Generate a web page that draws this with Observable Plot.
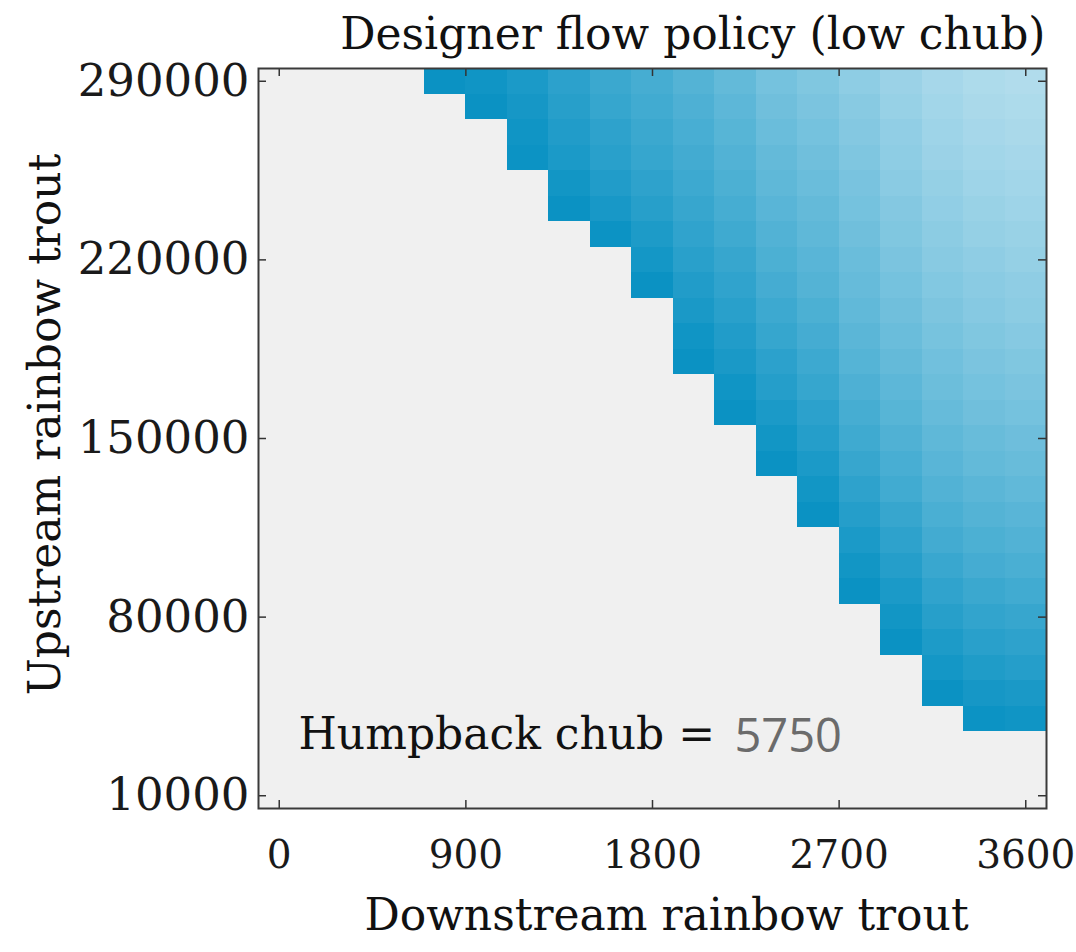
<!DOCTYPE html>
<html><head><meta charset="utf-8">
<script src="https://cdn.jsdelivr.net/npm/d3@7"></script>
<script src="https://cdn.jsdelivr.net/npm/@observablehq/plot@0.6"></script>
<style>body{margin:0;background:#fff} #chart svg{display:block}</style>
</head><body><div id="chart"></div>
<script>
// Grid of the policy map
const downstreamTrout = [800, 1000, 1200, 1400, 1600, 1800, 2000, 2200, 2400, 2600, 2800, 3000, 3200, 3400, 3600];
const upstreamTrout = [290000, 280000, 270000, 260000, 250000, 240000, 230000, 220000, 210000, 200000, 190000, 180000, 170000,
  160000, 150000, 140000, 130000, 120000, 110000, 100000, 90000, 80000, 70000, 60000, 50000, 40000];
// Relative shade of each filled cell (0 = darkest blue, 1 = lightest), top to bottom per column
const shade = [
  [0.03],
  [0.06, 0.03],
  [0.12, 0.09, 0.06, 0.04],
  [0.21, 0.18, 0.15, 0.12, 0.07, 0.03],
  [0.29, 0.26, 0.22, 0.19, 0.15, 0.10, 0.04],
  [0.35, 0.32, 0.29, 0.26, 0.22, 0.18, 0.13, 0.08, 0.03],
  [0.42, 0.39, 0.36, 0.33, 0.30, 0.27, 0.23, 0.19, 0.15, 0.11, 0.06, 0.03],
  [0.50, 0.47, 0.44, 0.41, 0.38, 0.35, 0.31, 0.27, 0.23, 0.19, 0.15, 0.11, 0.06, 0.03],
  [0.60, 0.57, 0.54, 0.51, 0.48, 0.45, 0.41, 0.38, 0.34, 0.30, 0.26, 0.21, 0.17, 0.12, 0.07, 0.03],
  [0.66, 0.63, 0.60, 0.57, 0.54, 0.51, 0.48, 0.45, 0.42, 0.38, 0.34, 0.30, 0.26, 0.21, 0.17, 0.12, 0.07, 0.03],
  [0.73, 0.70, 0.68, 0.65, 0.62, 0.60, 0.57, 0.54, 0.52, 0.49, 0.46, 0.43, 0.39, 0.35, 0.31, 0.27, 0.22, 0.17, 0.12, 0.07, 0.03],
  [0.80, 0.78, 0.75, 0.73, 0.71, 0.68, 0.66, 0.63, 0.60, 0.57, 0.54, 0.51, 0.47, 0.44, 0.40, 0.36, 0.32, 0.27, 0.22, 0.17, 0.12, 0.07, 0.03],
  [0.86, 0.84, 0.82, 0.80, 0.77, 0.75, 0.72, 0.70, 0.67, 0.64, 0.61, 0.58, 0.55, 0.52, 0.48, 0.45, 0.41, 0.37, 0.33, 0.28, 0.23, 0.18, 0.13, 0.08, 0.03],
  [0.90, 0.88, 0.86, 0.84, 0.82, 0.79, 0.77, 0.74, 0.71, 0.69, 0.66, 0.63, 0.60, 0.57, 0.53, 0.50, 0.46, 0.42, 0.38, 0.34, 0.29, 0.24, 0.19, 0.14, 0.09, 0.04],
  [0.92, 0.90, 0.88, 0.86, 0.84, 0.82, 0.79, 0.77, 0.74, 0.72, 0.69, 0.66, 0.63, 0.60, 0.56, 0.53, 0.49, 0.45, 0.41, 0.37, 0.32, 0.27, 0.22, 0.17, 0.11, 0.06]
];
const xTicks = [0, 900, 1800, 2700, 3600];
const yTicks = [10000, 80000, 150000, 220000, 290000];
const xStep = 200, yStep = 10000;
const xGrid = [0, 3600], yGrid = [10000, 290000];
const chubValue = 5750;
const titleText = "Designer flow policy (low chub)";
const xLabel = "Downstream rainbow trout";
const yLabel = "Upstream rainbow trout";
const chubLabel = "Humpback chub =";

const cells = shade.flatMap((col, i) => col.map((v, j) => ({x: downstreamTrout[i], y: upstreamTrout[j], v})));

const W = 1076, H = 952;
const mL = 258, mR = 30, mT = 68, mB = 144;
const pw = W - mL - mR, ph = H - mT - mB;
const serif = "'DejaVu Serif', serif";
const tickLen = 8;

const chart = Plot.plot({
  width: W, height: H,
  marginLeft: mL, marginRight: mR, marginTop: mT, marginBottom: mB,
  style: {fontFamily: serif, fontSize: "44px", color: "#1a1a1a", background: "#fff"},
  x: {domain: [xGrid[0] - xStep / 2, xGrid[1] + xStep / 2]},
  y: {domain: [yGrid[0] - yStep / 2, yGrid[1] + yStep / 2]},
  color: {type: "linear", domain: [0, 1], range: ["#0590c2", "#c0e3f0"], interpolate: "rgb"},
  marks: [
    Plot.frame({fill: "#f0f0f0"}),
    Plot.rect(cells, {
      x1: d => d.x - xStep / 2, x2: d => d.x + xStep / 2,
      y1: d => d.y - yStep / 2, y2: d => d.y + yStep / 2,
      fill: "v", shapeRendering: "crispEdges"
    }),
    Plot.ruleX(xTicks, {x: d => d, insetTop: ph - tickLen, stroke: "#333", strokeWidth: 1.5}),
    Plot.ruleX(xTicks, {x: d => d, insetBottom: ph - tickLen, stroke: "#333", strokeWidth: 1.5}),
    Plot.ruleY(yTicks, {y: d => d, insetRight: pw - tickLen, stroke: "#333", strokeWidth: 1.5}),
    Plot.ruleY(yTicks, {y: d => d, insetLeft: pw - tickLen, stroke: "#333", strokeWidth: 1.5}),
    Plot.axisX(xTicks, {tickSize: 0, tickPadding: 32, tickFormat: d => String(d), label: null, fontSize: 39}),
    Plot.axisY(yTicks, {tickSize: 0, tickPadding: 9, tickFormat: d => String(d), label: null, fontSize: 45}),
    Plot.frame({stroke: "#3a3a3a", strokeWidth: 2}),
    Plot.text([titleText], {frameAnchor: "top-right", textAnchor: "end", lineAnchor: "middle", dy: -34, dx: -1, fontSize: 44, fill: "#111"}),
    Plot.text([xLabel], {frameAnchor: "bottom", lineAnchor: "middle", dy: 107, dx: 14, fontSize: 44, fill: "#111"}),
    Plot.text([yLabel], {frameAnchor: "left", textAnchor: "middle", rotate: -90, lineAnchor: "middle", dx: -213, dy: -14, fontSize: 44, fill: "#111"}),
    Plot.text([chubLabel], {frameAnchor: "bottom-left", textAnchor: "start", lineAnchor: "middle", dx: 40, dy: -74, fontSize: 44, fill: "#111"}),
    Plot.text([chubValue], {frameAnchor: "bottom-left", textAnchor: "start", lineAnchor: "middle", dx: 476, dy: -72, fontSize: 47, fontFamily: "'Open Sans', sans-serif", fill: "#6b6b6b", text: d => String(d)})
  ]
});
document.getElementById("chart").appendChild(chart);
</script>
</body></html>
